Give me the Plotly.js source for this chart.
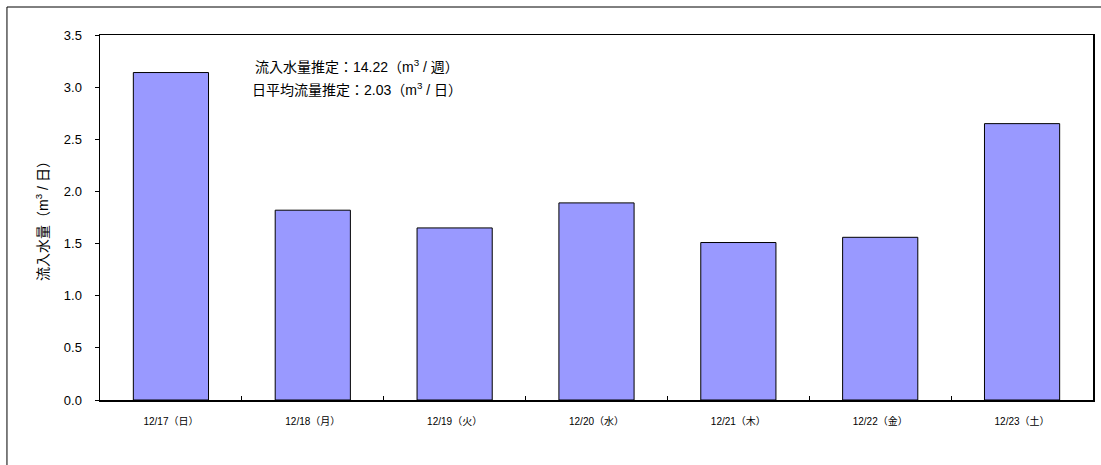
<!DOCTYPE html>
<html>
<head>
<meta charset="utf-8">
<script src="https://cdn.plot.ly/plotly-3.0.1.min.js"></script>
<style>html,body{margin:0;padding:0;background:#fff;}#chart{width:1101px;height:465px;}</style>
</head>
<body>
<div id="chart"></div>
<script>
const categories = ["12/17（日）", "12/18（月）", "12/19（火）", "12/20（水）", "12/21（木）", "12/22（金）", "12/23（土）"];
const inflow = [3.14, 1.82, 1.65, 1.89, 1.51, 1.56, 2.65];
const yTicks = [0, 0.5, 1.0, 1.5, 2.0, 2.5, 3.0, 3.5];
const yTickLabels = ["0.0", "0.5", "1.0", "1.5", "2.0", "2.5", "3.0", "3.5"];
const noteLines = ["流入水量推定：14.22（m<sup>3</sup> / 週）", "日平均流量推定：2.03（m<sup>3</sup> / 日）"];
const yTitle = "流入水量（m<sup>3</sup> / 日）";

const FONT = "Liberation Sans, Arial, 'Noto Sans CJK JP', sans-serif";

const trace = {
  type: "bar",
  x: categories,
  y: inflow,
  marker: {color: "#9999FF", line: {color: "#000000", width: 1}},
  hoverinfo: "none"
};

const layout = {
  width: 1101, height: 465,
  margin: {l: 100, r: 8, t: 35, b: 65, pad: 0},
  paper_bgcolor: "#ffffff", plot_bgcolor: "#ffffff",
  showlegend: false,
  bargap: 0.47,
  font: {family: FONT, color: "#000000"},
  xaxis: {
    type: "category",
    showline: true, linecolor: "#000", linewidth: 1.5, mirror: true,
    ticks: "inside", tickson: "boundaries", ticklen: 4, tickcolor: "#000",
    tickfont: {size: 10, family: FONT},
    ticklabelstandoff: 11,
    showgrid: false, zeroline: false,
    fixedrange: true
  },
  yaxis: {
    range: [0, 3.5],
    tickvals: yTicks, ticktext: yTickLabels,
    showline: true, linecolor: "#000", linewidth: 1.5, mirror: true,
    ticks: "outside", ticklen: 4, tickcolor: "#000",
    tickfont: {size: 13, family: FONT},
    ticklabelstandoff: 10,
    showgrid: false, zeroline: false,
    title: {text: yTitle, font: {size: 14, family: FONT}, standoff: 12}
  },
  annotations: [
    {xref: "paper", yref: "paper", x: 0.259, y: 0.915, text: noteLines[0], showarrow: false, font: {size: 14, family: FONT}, xanchor: "center", yanchor: "middle"},
    {xref: "paper", yref: "paper", x: 0.259, y: 0.852, text: noteLines[1], showarrow: false, font: {size: 14, family: FONT}, xanchor: "center", yanchor: "middle"}
  ],
  shapes: [
    {type: "rect", xref: "paper", yref: "paper", x0: -0.0937, x1: 1.2, y0: -0.4, y1: 1.0767, line: {color: "#000", width: 1}, fillcolor: "rgba(0,0,0,0)", layer: "below"}
  ]
};

Plotly.newPlot("chart", [trace], layout, {displayModeBar: false, staticPlot: true});
</script>
</body>
</html>
